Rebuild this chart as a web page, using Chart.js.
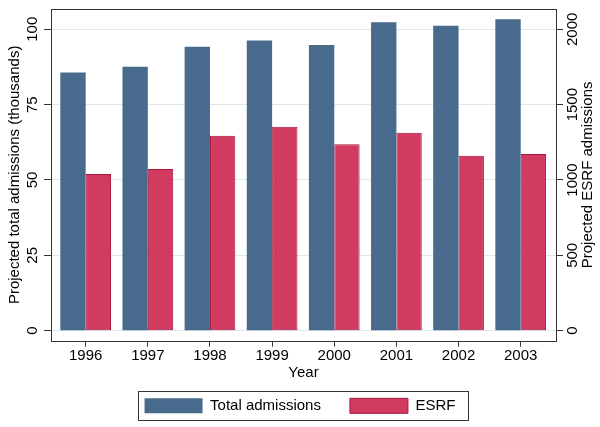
<!DOCTYPE html>
<html lang="en">
<head>
<meta charset="UTF-8">
<title>Projected admissions</title>
<script src="https://cdn.jsdelivr.net/npm/chart.js@4.4.1/dist/chart.umd.min.js"></script>
<style>
  body { margin: 0; background: #fff; }
  .wrap { width: 600px; height: 427px; }
</style>
</head>
<body>
<div class="wrap"><canvas id="myChart"></canvas></div>
<script>
const years = [1996, 1997, 1998, 1999, 2000, 2001, 2002, 2003];
const totalAdmissions = [85.7, 87.6, 94.2, 96.3, 94.8, 102.3, 101.2, 103.3];
const esrfAdmissions = [1040, 1073, 1294, 1354, 1237, 1314, 1161, 1173];
const leftTicks = [0, 25, 50, 75, 100];
const rightTicks = [0, 500, 1000, 1500, 2000];
const rightTitle = 'Projected ESRF admissions';

const FONT = "'Liberation Sans', Arial, sans-serif";
Chart.defaults.font.family = FONT;
Chart.defaults.font.size = 15;
Chart.defaults.color = '#000';

// box round the plot, border round the legend, right axis title (reads upward like Stata)
const frame = {
  id: 'frame',
  afterDraw(chart) {
    const ctx = chart.ctx;
    const a = chart.chartArea;
    ctx.save();
    ctx.strokeStyle = '#333';
    ctx.lineWidth = 1;
    ctx.strokeRect(Math.round(a.left) + 0.5, Math.round(a.top) + 0.5,
      Math.round(a.right - a.left), Math.round(a.bottom - a.top));

    const hb = chart.legend.legendHitBoxes;
    if (hb && hb.length) {
      const first = hb[0], last = hb[hb.length - 1];
      const l = first.left - 7, t = first.top - 7;
      const r = last.left + last.width + 12, b = first.top + first.height + 7;
      ctx.strokeRect(Math.round(l) + 0.5, Math.round(t) + 0.5, Math.round(r - l), Math.round(b - t));
    }

    ctx.fillStyle = '#000';
    ctx.font = '15px ' + FONT;
    ctx.translate(588, (a.top + a.bottom) / 2);
    ctx.rotate(-Math.PI / 2);
    ctx.textAlign = 'center';
    ctx.textBaseline = 'middle';
    ctx.fillText(rightTitle, 0, 0);
    ctx.restore();
  }
};

let ctx = document.getElementById('myChart').getContext('2d');
let chart = new Chart(ctx, {
  type: 'bar',
  data: {
    labels: years,
    datasets: [{
      label: 'Total admissions',
      data: totalAdmissions,
      yAxisID: 'y',
      backgroundColor: '#476a8d',
      borderWidth: 0
    }, {
      label: 'ESRF',
      data: esrfAdmissions,
      yAxisID: 'y2',
      backgroundColor: '#d13b5f',
      borderColor: '#a8163f',
      borderWidth: 1,
      borderSkipped: false
    }]
  },
  options: {
    responsive: true,
    maintainAspectRatio: false,
    animation: false,
    categoryPercentage: 0.816,
    barPercentage: 1,
    layout: { padding: { top: 9, bottom: 3.7, left: 0, right: 0 } },
    plugins: {
      tooltip: { enabled: false },
      legend: {
        position: 'bottom',
        labels: { boxWidth: 58, boxHeight: 15, padding: 29, color: '#000' }
      }
    },
    scales: {
      x: {
        type: 'linear',
        min: 1995.442,
        max: 2003.568,
        offset: false,
        afterBuildTicks: s => { s.ticks = years.map(v => ({ value: v })); },
        afterFit: s => { s.height = 28.6; },
        ticks: { padding: 0, maxRotation: 0, autoSkip: false, callback: v => String(v) },
        grid: { offset: false, drawOnChartArea: false, tickLength: 6, tickColor: '#333' },
        border: { display: false },
        title: { display: true, text: 'Year', padding: { top: 0, bottom: -12.7 } }
      },
      y: {
        position: 'left',
        min: -3.32,
        max: 106.73,
        afterBuildTicks: s => { s.ticks = leftTicks.map(v => ({ value: v })); },
        afterFit: s => { s.width = 51; },
        ticks: { minRotation: 90, maxRotation: 90, crossAlign: 'center', padding: -1.5, callback: v => String(v) },
        grid: { color: '#dfe6ee', tickLength: 7, tickColor: '#333' },
        border: { display: false },
        title: { display: true, text: 'Projected total admissions (thousands)', padding: { top: 6, bottom: 0 } }
      },
      y2: {
        position: 'right',
        min: -66.4,
        max: 2134.6,
        afterBuildTicks: s => { s.ticks = rightTicks.map(v => ({ value: v })); },
        afterFit: s => { s.width = 44; },
        ticks: { minRotation: 90, maxRotation: 90, crossAlign: 'center', padding: -6.7, callback: v => String(v) },
        grid: { drawOnChartArea: false, tickLength: 7, tickColor: '#333' },
        border: { display: false }
      }
    }
  },
  plugins: [frame]
});
</script>
</body>
</html>
